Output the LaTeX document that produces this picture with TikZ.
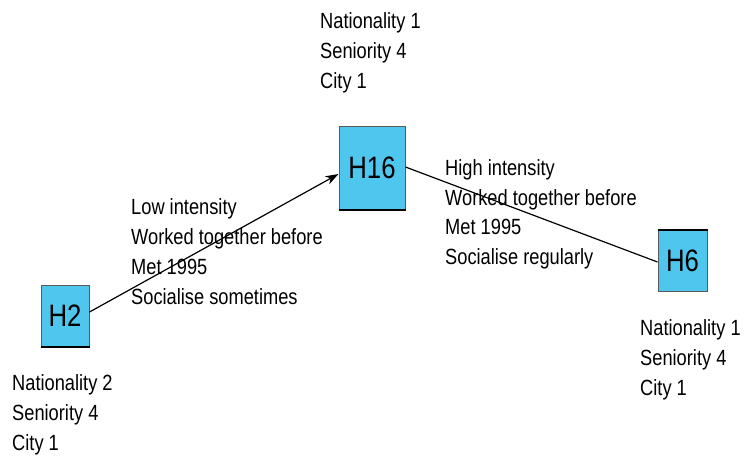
\documentclass[tikz,border=0pt]{standalone}
\usepackage{fontspec}
\setmainfont[FakeStretch=0.83]{Liberation Sans}
\usetikzlibrary{arrows.meta}
\definecolor{boxblue}{RGB}{79,198,238}
\definecolor{boxedge}{RGB}{90,90,90}
\tikzset{
  hbox/.style={draw=boxedge, line width=1pt, fill=boxblue, rectangle, inner sep=0pt,
    font=\fontsize{31}{31}\selectfont},
  info/.style={anchor=base west, inner sep=0pt, align=left,
    font=\fontsize{22}{30}\selectfont},
  link/.style={line width=1.2pt, black},
}
\begin{document}
\begin{tikzpicture}[x=1pt,y=-1pt]
\useasboundingbox (0,0) rectangle (744,459);
\fill[white] (0,0) rectangle (744,459);
% boxes
\node[hbox, minimum width=66pt, minimum height=83pt] (h16) at (372,167.5) {H16};
\node[hbox, minimum width=48pt, minimum height=61pt] (h2) at (65,315.5) {H2};
\node[hbox, minimum width=49pt, minimum height=61pt] (h6) at (682.5,260.5) {H6};
\draw[line width=2pt] (h16.south west) -- (h16.south east);
\draw[line width=2pt] (h2.south west) -- (h2.south east);
\draw[line width=2pt] (h6.north west) -- (h6.north east);
% attribute labels (anchor = baseline of last line)
\node[info] (t16) at (320,88) {Nationality 1\\Seniority 4\\City 1};
\node[info] (t2) at (12,450) {Nationality 2\\Seniority 4\\City 1};
\node[info] (t6) at (640,395) {Nationality 1\\Seniority 4\\City 1};
% edge labels
\node[info] (e1) at (131,304) {Low intensity\\Worked together before\\Met 1995\\Socialise sometimes};
\node[info, font=\fontsize{22}{29.5}\selectfont] (e2) at (445,264) {High intensity\\Worked together before\\Met 1995\\Socialise regularly};
% connectors
\coordinate (a1) at ([yshift=3.5pt]h2.east);
\coordinate (a2) at ([yshift=-6.5pt]h16.west);
\coordinate (b1) at ([yshift=0.5pt]h16.east);
\coordinate (b2) at ([yshift=-1.5pt]h6.west);
\draw[link, -{Stealth[length=13pt,width=9pt,inset=4pt]}] (a1) -- (a2);
\draw[link] (b1) -- (b2);
\end{tikzpicture}
\end{document}
